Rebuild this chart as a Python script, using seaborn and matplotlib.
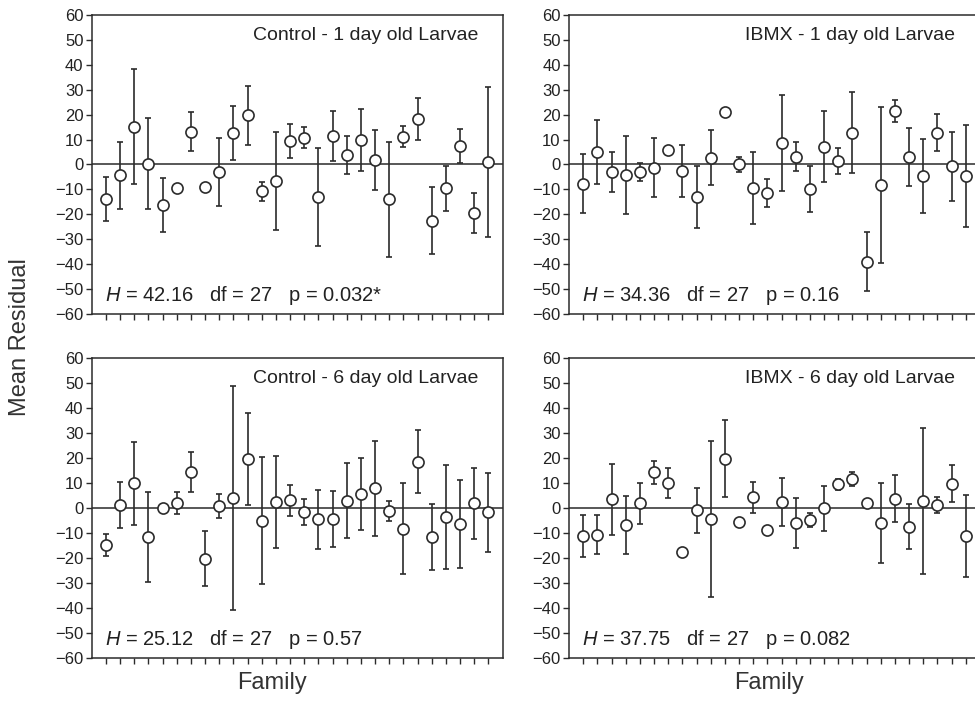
import numpy as np
import pandas as pd
import seaborn as sns
import matplotlib.pyplot as plt

# family index on the x axis (28 families, df = 27)
family = list(range(1, 29))

# Control - 1 day old larvae
c1_mean = [-14.0, -4.3, 15.2, 0.3, -16.4, -9.4, 13.2, -9.1, -2.9, 12.6, 19.7, -10.8, -6.6, 9.4,
           10.7, -13.0, 11.4, 3.9, 9.9, 1.7, -14.0, 11.2, 18.2, -22.6, -9.6, 7.5, -19.5, 1.1]
c1_err = [8.8, 13.4, 23.0, 18.2, 10.8, 0, 8.0, 0, 13.6, 10.7, 11.8, 3.9, 19.5, 7.0,
          4.2, 19.5, 9.9, 7.6, 12.4, 12.0, 23.0, 4.2, 8.3, 13.4, 9.1, 6.9, 8.1, 30.0]

# IBMX - 1 day old larvae
i1_mean = [-7.8, 5.1, -2.9, -4.3, -2.9, -1.3, 5.6, -2.7, -13.1, 2.7, 20.9, 0.0, -9.4, -11.4,
           8.7, 3.1, -9.8, 7.1, 1.3, 12.8, -38.9, -8.2, 21.4, 3.1, -4.7, 12.8, -0.8, -4.7]
i1_err = [11.8, 12.9, 8.0, 15.6, 3.6, 11.8, 2.0, 10.4, 12.4, 11.0, 0, 2.9, 14.4, 5.5,
          19.2, 5.9, 9.1, 14.2, 5.1, 16.3, 11.8, 31.2, 4.4, 11.6, 14.8, 7.3, 13.7, 20.4]

# Control - 6 day old larvae
c6_mean = [-14.7, 1.3, 10.0, -11.4, -0.1, 2.0, 14.6, -20.3, 0.8, 4.1, 19.8, -5.1, 2.5, 3.1,
           -1.6, -4.5, -4.3, 2.9, 5.5, 7.9, -1.1, -8.3, 18.6, -11.6, -3.7, -6.3, 1.9, -1.7]
c6_err = [4.4, 9.2, 16.7, 18.0, 0, 4.5, 8.1, 11.0, 4.7, 45.0, 18.5, 25.4, 18.5, 6.3,
          5.3, 11.8, 11.3, 15.0, 14.4, 18.9, 4.0, 18.2, 12.6, 13.1, 20.8, 17.6, 14.2, 15.8]

# IBMX - 6 day old larvae
i6_mean = [-11.1, -10.6, 3.5, -6.8, 1.9, 14.3, 10.0, -17.6, -0.8, -4.3, 19.8, -5.7, 4.3, -8.8,
           2.4, -6.0, -4.8, 0.0, 9.6, 11.6, 2.0, -5.9, 3.7, -7.5, 2.9, 1.2, 9.8, -11.1]
i6_err = [8.3, 7.9, 14.2, 11.6, 8.3, 4.5, 6.1, 0, 9.0, 31.1, 15.4, 0, 6.3, 0,
          9.5, 10.0, 2.8, 9.0, 2.2, 2.8, 0, 16.1, 9.4, 9.0, 29.4, 3.3, 7.3, 16.5]

titles = ['Control - 1 day old Larvae', 'IBMX - 1 day old Larvae',
          'Control - 6 day old Larvae', 'IBMX - 6 day old Larvae']
stats = [r'$H$ = 42.16   df = 27   p = 0.032*', r'$H$ = 34.36   df = 27   p = 0.16',
         r'$H$ = 25.12   df = 27   p = 0.57', r'$H$ = 37.75   df = 27   p = 0.082']
yticks = list(range(-60, 61, 10))

sns.set_style('ticks')
plt.rcParams['font.family'] = ['Liberation Sans', 'DejaVu Sans']
plt.rcParams['mathtext.fontset'] = 'custom'
plt.rcParams['mathtext.rm'] = 'Liberation Sans'
plt.rcParams['mathtext.it'] = 'Liberation Sans:italic'

fig = plt.figure(figsize=(9.75, 7.02), dpi=100)
# [left, bottom, width, height]; right column runs slightly past the edge as in the source
positions = [[0.0941, 0.5523, 0.4214, 0.4268], [0.5836, 0.5523, 0.4214, 0.4268],
             [0.0941, 0.0627, 0.4214, 0.4268], [0.5836, 0.0627, 0.4214, 0.4268]]
panels = [(c1_mean, c1_err), (i1_mean, i1_err), (c6_mean, c6_err), (i6_mean, i6_err)]

edge = '#2b2b2b'
for pos, (mean, err), title, stat in zip(positions, panels, titles, stats):
    ax = fig.add_axes(pos)
    df = pd.DataFrame({'family': family, 'mean': mean, 'err': err})

    ax.axhline(0, color='#4a4a4a', lw=1.3, zorder=1)
    ax.errorbar(df['family'], df['mean'], yerr=df['err'], fmt='none',
                ecolor=edge, elinewidth=1.2, capsize=2.3, capthick=1.2, zorder=2)
    sns.scatterplot(data=df, x='family', y='mean', ax=ax, s=64, color='white',
                    edgecolor=edge, linewidth=1.2, zorder=3, legend=False)

    ax.set_xlim(0, 29)
    ax.set_ylim(-60, 60)
    ax.set_xticks(family)
    ax.set_xticklabels([])
    ax.set_yticks(yticks)
    ax.tick_params(axis='x', direction='out', length=4, width=1, color=edge)
    ax.tick_params(axis='y', direction='out', length=4, width=1, color=edge,
                   labelsize=12, pad=2, labelcolor='#222222')
    for sp in ax.spines.values():
        sp.set_color(edge)
        sp.set_linewidth(1.1)
    ax.set_xlabel(None)
    ax.set_ylabel(None)

    ax.text(0.94, 0.932, title, transform=ax.transAxes, ha='right', va='center',
            fontsize=14, color='#222222')
    ax.text(0.032, 0.045, stat, transform=ax.transAxes, ha='left', va='baseline',
            fontsize=14.5, color='#222222')

fig.text(0.021, 0.52, 'Mean Residual', rotation=90, ha='center', va='center',
         fontsize=17, color='#333333')
fig.text(0.279, 0.027, 'Family', ha='center', va='center', fontsize=17, color='#333333')
fig.text(0.789, 0.027, 'Family', ha='center', va='center', fontsize=17, color='#333333')

fig.savefig('out.png', dpi=100)
